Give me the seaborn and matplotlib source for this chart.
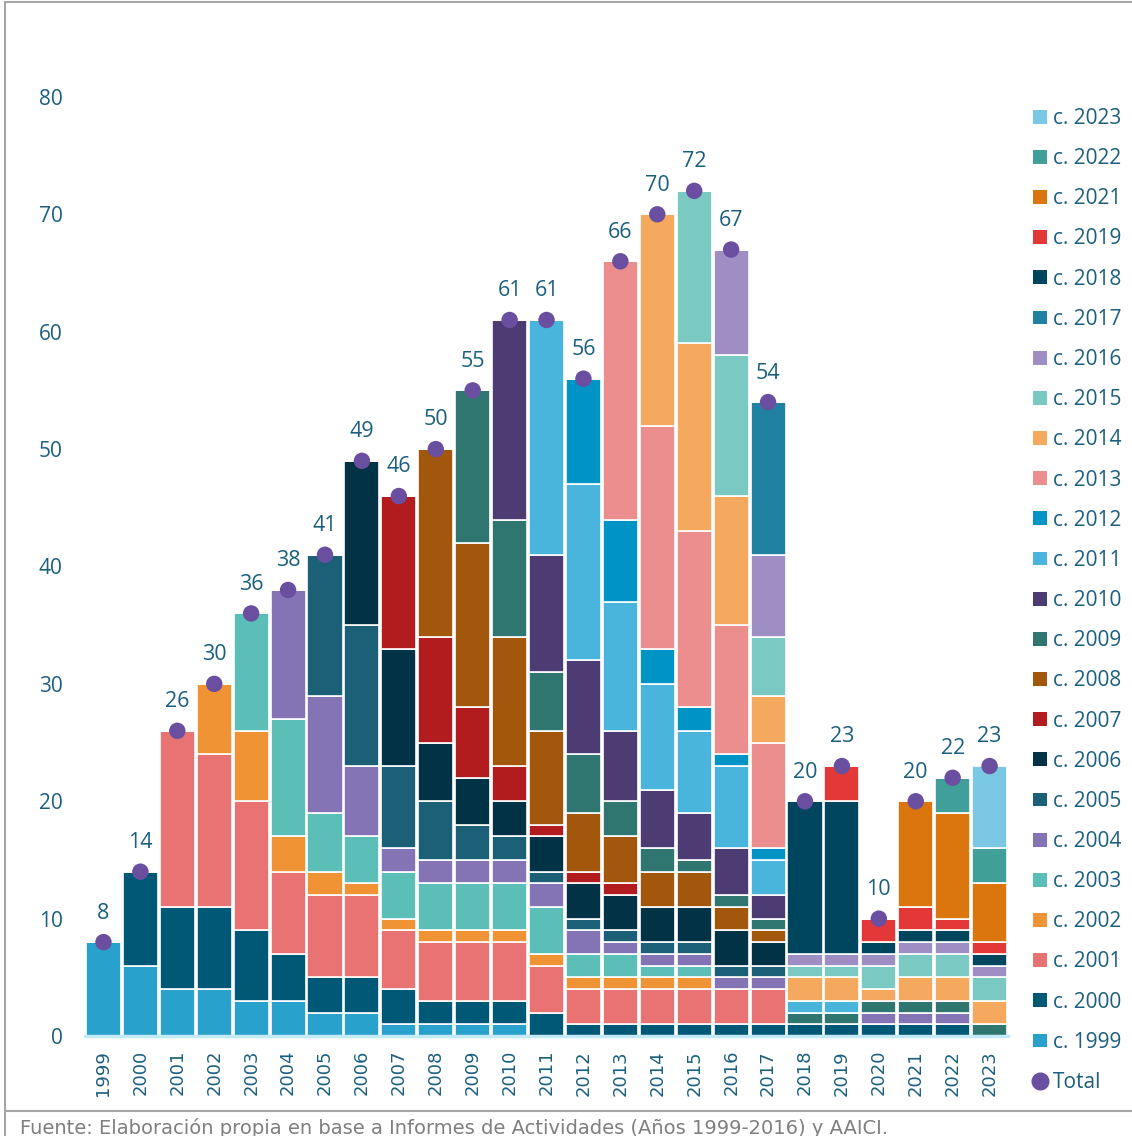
import numpy as np
import pandas as pd
import matplotlib.pyplot as plt
import seaborn as sns
from matplotlib.patches import Patch
from matplotlib.lines import Line2D

# Data: number of projects per year, split by the call (convocatoria) they came from
years = list(range(1999, 2024))

c1999 = [8, 6, 4, 4, 3, 3, 2, 2, 1, 1, 1, 1, 0, 0, 0, 0, 0, 0, 0, 0, 0, 0, 0, 0, 0]
c2000 = [0, 8, 7, 7, 6, 4, 3, 3, 3, 2, 2, 2, 2, 1, 1, 1, 1, 1, 1, 1, 1, 1, 1, 1, 0]
c2001 = [0, 0, 15, 13, 11, 7, 7, 7, 5, 5, 5, 5, 4, 3, 3, 3, 3, 3, 3, 0, 0, 0, 0, 0, 0]
c2002 = [0, 0, 0, 6, 6, 3, 2, 1, 1, 1, 1, 1, 1, 1, 1, 1, 1, 0, 0, 0, 0, 0, 0, 0, 0]
c2003 = [0, 0, 0, 0, 10, 10, 5, 4, 4, 4, 4, 4, 4, 2, 2, 1, 1, 0, 0, 0, 0, 0, 0, 0, 0]
c2004 = [0, 0, 0, 0, 0, 11, 10, 6, 2, 2, 2, 2, 2, 2, 1, 1, 1, 1, 1, 0, 0, 1, 1, 1, 0]
c2005 = [0, 0, 0, 0, 0, 0, 12, 12, 7, 5, 3, 2, 1, 1, 1, 1, 1, 1, 1, 0, 0, 0, 0, 0, 0]
c2006 = [0, 0, 0, 0, 0, 0, 0, 14, 10, 5, 4, 3, 3, 3, 3, 3, 3, 3, 2, 0, 0, 0, 0, 0, 0]
c2007 = [0, 0, 0, 0, 0, 0, 0, 0, 13, 9, 6, 3, 1, 1, 1, 0, 0, 0, 0, 0, 0, 0, 0, 0, 0]
c2008 = [0, 0, 0, 0, 0, 0, 0, 0, 0, 16, 14, 11, 8, 5, 4, 3, 3, 2, 1, 0, 0, 0, 0, 0, 0]
c2009 = [0, 0, 0, 0, 0, 0, 0, 0, 0, 0, 13, 10, 5, 5, 3, 2, 1, 1, 1, 1, 1, 1, 1, 1, 1]
c2010 = [0, 0, 0, 0, 0, 0, 0, 0, 0, 0, 0, 17, 10, 8, 6, 5, 4, 4, 2, 0, 0, 0, 0, 0, 0]
c2011 = [0, 0, 0, 0, 0, 0, 0, 0, 0, 0, 0, 0, 20, 15, 11, 9, 7, 7, 3, 1, 1, 0, 0, 0, 0]
c2012 = [0, 0, 0, 0, 0, 0, 0, 0, 0, 0, 0, 0, 0, 9, 7, 3, 2, 1, 1, 0, 0, 0, 0, 0, 0]
c2013 = [0, 0, 0, 0, 0, 0, 0, 0, 0, 0, 0, 0, 0, 0, 22, 19, 15, 11, 9, 0, 0, 0, 0, 0, 0]
c2014 = [0, 0, 0, 0, 0, 0, 0, 0, 0, 0, 0, 0, 0, 0, 0, 18, 16, 11, 4, 2, 2, 1, 2, 2, 2]
c2015 = [0, 0, 0, 0, 0, 0, 0, 0, 0, 0, 0, 0, 0, 0, 0, 0, 13, 12, 5, 1, 1, 2, 2, 2, 2]
c2016 = [0, 0, 0, 0, 0, 0, 0, 0, 0, 0, 0, 0, 0, 0, 0, 0, 0, 9, 7, 1, 1, 1, 1, 1, 1]
c2017 = [0, 0, 0, 0, 0, 0, 0, 0, 0, 0, 0, 0, 0, 0, 0, 0, 0, 0, 13, 0, 0, 0, 0, 0, 0]
c2018 = [0, 0, 0, 0, 0, 0, 0, 0, 0, 0, 0, 0, 0, 0, 0, 0, 0, 0, 0, 13, 13, 1, 1, 1, 1]
c2019 = [0, 0, 0, 0, 0, 0, 0, 0, 0, 0, 0, 0, 0, 0, 0, 0, 0, 0, 0, 0, 3, 2, 2, 1, 1]
c2021 = [0, 0, 0, 0, 0, 0, 0, 0, 0, 0, 0, 0, 0, 0, 0, 0, 0, 0, 0, 0, 0, 0, 9, 9, 5]
c2022 = [0, 0, 0, 0, 0, 0, 0, 0, 0, 0, 0, 0, 0, 0, 0, 0, 0, 0, 0, 0, 0, 0, 0, 3, 3]
c2023 = [0, 0, 0, 0, 0, 0, 0, 0, 0, 0, 0, 0, 0, 0, 0, 0, 0, 0, 0, 0, 0, 0, 0, 0, 7]

cohort_names = ['c. 1999', 'c. 2000', 'c. 2001', 'c. 2002', 'c. 2003', 'c. 2004',
                'c. 2005', 'c. 2006', 'c. 2007', 'c. 2008', 'c. 2009', 'c. 2010',
                'c. 2011', 'c. 2012', 'c. 2013', 'c. 2014', 'c. 2015', 'c. 2016',
                'c. 2017', 'c. 2018', 'c. 2019', 'c. 2021', 'c. 2022', 'c. 2023']
cohort_values = [c1999, c2000, c2001, c2002, c2003, c2004, c2005, c2006, c2007,
                 c2008, c2009, c2010, c2011, c2012, c2013, c2014, c2015, c2016,
                 c2017, c2018, c2019, c2021, c2022, c2023]
cohort_colors = ['#28A1CC', '#005877', '#E97372', '#F09335', '#5BBEB7', '#8574B5',
                 '#1C6077', '#013246', '#B31C1E', '#A3570C', '#2F7670', '#4D3C74',
                 '#4AB5DC', '#0093C6', '#EC8E8E', '#F4A95E', '#7ACAC3', '#9F8EC4',
                 '#2081A3', '#00455E', '#E23838', '#DB760F', '#40A099', '#7AC8E3']

TXT = '#1B5F7E'
TOTAL_COLOR = '#6A4FA0'

# long table for seaborn
rows = []
for name, vals in zip(cohort_names, cohort_values):
    for yr, v in zip(years, vals):
        if v > 0:
            rows.append({'year': yr, 'cohort': name, 'n': v})
df = pd.DataFrame(rows)
totals = np.sum(cohort_values, axis=0)

sns.set_style('white')
plt.rcParams['font.family'] = ['Open Sans', 'DejaVu Sans']

fig = plt.figure(figsize=(11.32, 11.36), dpi=100)
ax = fig.add_axes([0.0751, 0.088, 0.8154, 0.868])

# stacked bars (histplot stacks the last hue level at the bottom)
sns.histplot(
    data=df, x='year', weights='n',
    hue='cohort', hue_order=cohort_names[::-1],
    palette=dict(zip(cohort_names, cohort_colors)),
    multiple='stack', discrete=True, shrink=0.95,
    alpha=1, edgecolor='white', linewidth=1.2,
    legend=False, ax=ax
)

# totals
sns.scatterplot(x=years, y=totals, color=TOTAL_COLOR, s=140,
                edgecolor='none', zorder=5, legend=False, ax=ax)
for yr, t in zip(years, totals):
    ax.annotate(str(t), (yr, t), xytext=(0, 17), textcoords='offset points',
                ha='center', va='baseline', fontsize=15.5, color=TXT)

ax.set_xlim(1998.5, 2023.5)
ax.set_ylim(0, 84)
ax.set_yticks(range(0, 81, 10))
ax.set_xticks(years)
ax.set_xticklabels([str(y) for y in years], rotation=90,
                   fontsize=13, color=TXT, family='DejaVu Sans')
ax.tick_params(axis='y', length=0, pad=16, labelsize=15, labelcolor=TXT)
ax.tick_params(axis='x', length=0, pad=10)
ax.set_xlabel('')
ax.set_ylabel('')
for s in ['top', 'right', 'left']:
    ax.spines[s].set_visible(False)
ax.spines['bottom'].set_color('#C5EAF7')
ax.spines['bottom'].set_linewidth(2.5)

# legend
handles = [Patch(facecolor=c, edgecolor='none', label=n)
           for n, c in zip(cohort_names[::-1], cohort_colors[::-1])]
handles.append(Line2D([], [], marker='o', ls='', color=TOTAL_COLOR,
                      markersize=12, label='Total'))
fig.legend(handles=handles, loc='upper left',
           bbox_to_anchor=(1033 / 1132, 1 - 108 / 1136),
           frameon=False, fontsize=15, labelcolor=TXT,
           labelspacing=0.92, handlelength=0.65, handleheight=0.65,
           handletextpad=0.3, borderaxespad=0, borderpad=0)

# frame lines and source
grey = '#A6A6A6'
fig.add_artist(Line2D([5 / 1132, 1], [1 - 2 / 1136, 1 - 2 / 1136],
                      transform=fig.transFigure, color=grey, lw=1.5))
fig.add_artist(Line2D([5 / 1132, 5 / 1132], [0, 1 - 2 / 1136],
                      transform=fig.transFigure, color=grey, lw=1.5))
fig.add_artist(Line2D([5 / 1132, 1], [1 - 1111 / 1136, 1 - 1111 / 1136],
                      transform=fig.transFigure, color=grey, lw=1.5))
fig.text(20 / 1132, 2 / 1136,
         'Fuente: Elaboración propia en base a Informes de Actividades (Años 1999-2016) y AAICI.',
         fontsize=14, color='#7F7F7F', va='baseline', family='DejaVu Sans')

fig.savefig('out.png', dpi=100)
